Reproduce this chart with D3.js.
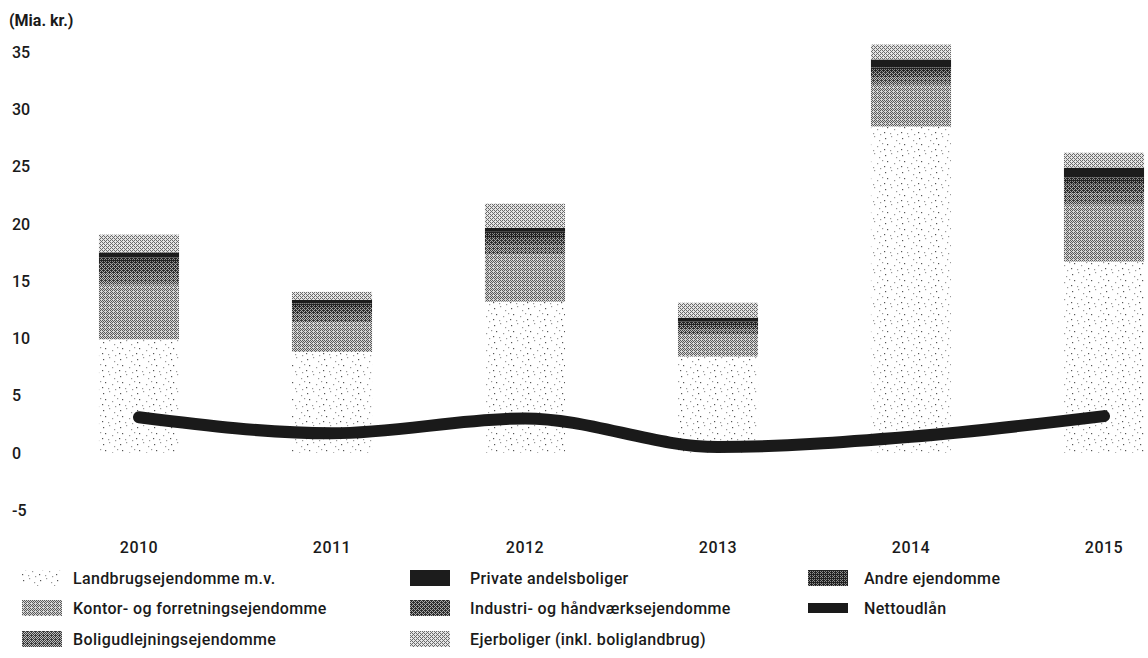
<!DOCTYPE html>
<html>
<head>
<meta charset="utf-8">
<script src="https://cdn.jsdelivr.net/npm/d3@7/dist/d3.min.js"></script>
<style>
  html, body { margin: 0; padding: 0; background: #ffffff; }
  svg { display: block; }
  text { font-family: Roboto, "DejaVu Sans", sans-serif; fill: #1a1a1a; }
</style>
</head>
<body>
<svg id="chart" width="1148" height="658"></svg>
<script>
// Udlån fordelt på ejendomskategorier (Mia. kr.)
const years = ["2010", "2011", "2012", "2013", "2014", "2015"];
const landbrug       = [9.9, 8.8, 13.2, 8.4, 28.5, 16.7];
const kontor         = [4.8, 2.6, 4.1, 1.9, 3.65, 5.0];
const boligudlejning = [1.0, 0.7, 0.8, 0.45, 0.6, 0.95];
const industri       = [0.8, 0.55, 0.65, 0.4, 0.5, 0.8];
const andre          = [0.55, 0.4, 0.55, 0.3, 0.4, 0.6];
const privateAndel   = [0.45, 0.3, 0.35, 0.35, 0.7, 0.85];
const ejerboliger    = [1.55, 0.7, 2.1, 1.3, 1.3, 1.3];
const nettoudlaan    = [3.1, 1.7, 3.0, 0.5, 1.4, 3.2];
const yTicks = [-5, 0, 5, 10, 15, 20, 25, 30, 35];
const unitLabel = "(Mia. kr.)";

// stacking order, bottom to top
const series = [
  { key: "landbrug",       name: "Landbrugsejendomme m.v.",           values: landbrug,       fill: "url(#stipple)" },
  { key: "kontor",         name: "Kontor- og forretningsejendomme",   values: kontor,         fill: "url(#ditherMid)" },
  { key: "boligudlejning", name: "Boligudlejningsejendomme",          values: boligudlejning, fill: "url(#ditherDark1)" },
  { key: "industri",       name: "Industri- og håndværksejendomme",   values: industri,       fill: "url(#ditherDark2)" },
  { key: "andre",          name: "Andre ejendomme",                   values: andre,          fill: "url(#ditherDark3)" },
  { key: "privateAndel",   name: "Private andelsboliger",             values: privateAndel,   fill: "#1c1c1c" },
  { key: "ejerboliger",    name: "Ejerboliger (inkl. boliglandbrug)", values: ejerboliger,    fill: "url(#ditherLight)" }
];

const svg = d3.select("#chart");
const defs = svg.append("defs");

// ordered 4x4 dither tiles, giving the halftone look of the printed greys
const bayer = [[0, 8, 2, 10], [12, 4, 14, 6], [3, 11, 1, 9], [15, 7, 13, 5]];
function dither(id, dark, light, level) {
  const p = defs.append("pattern").attr("id", id)
    .attr("patternUnits", "userSpaceOnUse").attr("width", 4).attr("height", 4);
  for (let j = 0; j < 4; j++) for (let i = 0; i < 4; i++) {
    p.append("rect").attr("x", i).attr("y", j).attr("width", 1).attr("height", 1)
      .attr("fill", (bayer[j][i] + 0.5) / 16 < level ? dark : light);
  }
}
dither("ditherLight", "#6a6a6a", "#e4e4e4", 0.35);
dither("ditherMid",   "#5a5a5a", "#d6d6d6", 0.45);
dither("ditherDark1", "#3c3c3c", "#bdbdbd", 0.55);
dither("ditherDark2", "#2e2e2e", "#a8a8a8", 0.62);
dither("ditherDark3", "#222222", "#8c8c8c", 0.70);

// sparse stipple for the lowest segment
const stippleDots = [[1, 2], [7, 0], [12, 4], [3, 8], [10, 10], [15, 7], [0, 13], [6, 14], [13, 15]];
const st = defs.append("pattern").attr("id", "stipple")
  .attr("patternUnits", "userSpaceOnUse").attr("width", 17).attr("height", 17);
st.append("rect").attr("width", 17).attr("height", 17).attr("fill", "#ffffff");
st.selectAll("rect.dot").data(stippleDots).join("rect").attr("class", "dot")
  .attr("x", d => d[0]).attr("y", d => d[1]).attr("width", 1.2).attr("height", 1.2)
  .attr("fill", (d, i) => i % 3 === 0 ? "#555" : "#9a9a9a");

// scales
const x = d3.scaleBand().domain(years).range([42.5, 1200.5]).paddingInner(0.585).paddingOuter(0.2925);
const y = d3.scaleLinear().domain([-5, 35]).range([510, 52]);

// unit label
svg.append("text").attr("x", 9).attr("y", 26)
  .style("font-size", "16px").style("font-weight", 700).text(unitLabel);

// y tick labels (no axis line)
svg.append("g").selectAll("text").data(yTicks).join("text")
  .attr("x", 12).attr("y", d => y(d)).attr("dy", "0.36em")
  .style("font-size", "16px").style("font-weight", 500)
  .text(d => d);

// stacked bars
const rows = years.map((yr, i) => {
  const r = { year: yr };
  series.forEach(s => { r[s.key] = s.values[i]; });
  return r;
});
const stacked = d3.stack().keys(series.map(s => s.key))(rows);
const bars = svg.append("g");
stacked.forEach((layer, li) => {
  bars.append("g").attr("fill", series[li].fill)
    .selectAll("rect").data(layer).join("rect")
    .attr("x", d => x(d.data.year))
    .attr("width", x.bandwidth())
    .attr("y", d => y(d[1]))
    .attr("height", d => y(d[0]) - y(d[1]));
});

// year labels
svg.append("g").selectAll("text").data(years).join("text")
  .attr("x", d => x(d) + x.bandwidth() / 2).attr("y", 553)
  .attr("text-anchor", "middle")
  .style("font-size", "16px").style("font-weight", 500).style("letter-spacing", "0.5px")
  .text(d => d);

// Nettoudlån line
const line = d3.line()
  .x((d, i) => x(years[i]) + x.bandwidth() / 2)
  .y(d => y(d))
  .curve(d3.curveMonotoneX);
svg.append("path").datum(nettoudlaan)
  .attr("d", line)
  .attr("fill", "none").attr("stroke", "#1a1a1a")
  .attr("stroke-width", 12).attr("stroke-linecap", "round").attr("stroke-linejoin", "round");

// legend: three columns
const legendItems = [
  { name: series[0].name, fill: series[0].fill, col: 0, row: 0 },
  { name: series[1].name, fill: series[1].fill, col: 0, row: 1 },
  { name: series[2].name, fill: series[2].fill, col: 0, row: 2 },
  { name: series[5].name, fill: series[5].fill, col: 1, row: 0 },
  { name: series[3].name, fill: series[3].fill, col: 1, row: 1 },
  { name: series[6].name, fill: series[6].fill, col: 1, row: 2 },
  { name: series[4].name, fill: series[4].fill, col: 2, row: 0 },
  { name: "Nettoudlån", fill: "#1a1a1a", col: 2, row: 1, isLine: true }
];
const colX = [22, 410, 808];
const textOffset = [51, 60, 56];
const rowY = [578, 608, 639];
const lg = svg.append("g").selectAll("g").data(legendItems).join("g")
  .attr("transform", d => `translate(${colX[d.col]},${rowY[d.row]})`);
lg.append("rect")
  .attr("x", 0).attr("width", 40)
  .attr("y", d => d.isLine ? -5 : -8)
  .attr("height", d => d.isLine ? 10 : 16)
  .attr("fill", d => d.fill);
lg.append("text")
  .attr("x", d => textOffset[d.col]).attr("dy", "0.36em")
  .style("font-size", "16px").style("font-weight", 500).style("letter-spacing", "0.35px")
  .text(d => d.name);
</script>
</body>
</html>
